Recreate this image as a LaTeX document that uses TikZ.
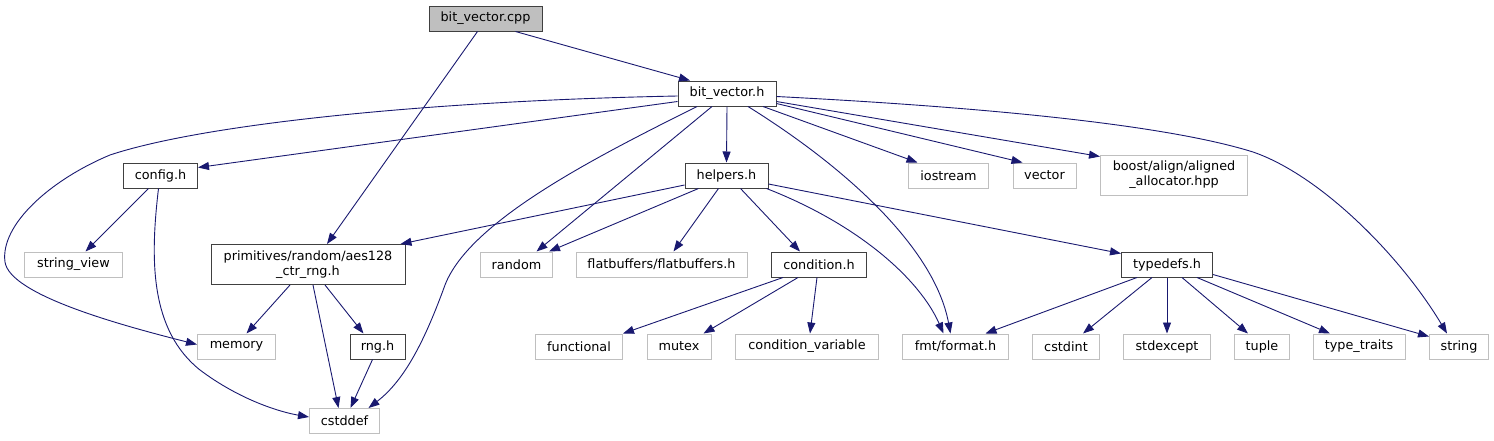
\documentclass[tikz,border=0pt]{standalone}
\usepackage{fontspec}
\setmainfont{DejaVu Sans}
\usetikzlibrary{arrows.meta}
\definecolor{deplink}{HTML}{191970}
\definecolor{sysgray}{HTML}{BFBFBF}

\begin{document}
\begin{tikzpicture}[x=1pt,y=-1pt,
  every node/.style={font=\fontsize{12.8}{15}\selectfont,inner sep=0pt,minimum height=25pt,align=center},
  hdr/.style={draw=black!75,line width=1pt,fill=white},
  sys/.style={draw=sysgray,line width=1pt,fill=white},
  src/.style={draw=black!75,line width=1pt,fill=sysgray},
  dep/.style={draw=deplink,line width=0.9pt,-{Triangle[length=11pt,width=8pt]}}]
\useasboundingbox (0,0) rectangle (1494,440);
\node[src,minimum width=113pt] (cpp) at (485.5,18.5) {bit\_vector.cpp};
\node[hdr,minimum width=98pt] (bvh) at (727,93.5) {bit\_vector.h};
\node[hdr,minimum width=83pt] (helpers) at (726.5,175.5) {helpers.h};
\node[sys,minimum width=80pt] (iostream) at (948.5,175.5) {iostream};
\node[sys,minimum width=63pt] (vector) at (1044.5,175.5) {vector};
\node[sys,minimum width=147pt,minimum height=40pt] (boost) at (1174,175) {boost/align/aligned\\\_allocator.hpp};
\node[hdr,minimum width=74pt] (config) at (160.5,175.5) {config.h};
\node[sys,minimum width=98pt] (strview) at (73.5,264.5) {string\_view};
\node[hdr,minimum width=194pt,minimum height=40pt] (aes) at (308,264.5) {primitives/random/aes128\\\_ctr\_rng.h};
\node[sys,minimum width=78pt] (memory) at (236.5,346.5) {memory};
\node[hdr,minimum width=55pt] (rng) at (377.5,346.5) {rng.h};
\node[sys,minimum width=70pt] (cstddef) at (344.5,421) {cstddef};
\node[sys,minimum width=72pt] (random) at (516.5,264.5) {random};
\node[sys,minimum width=171pt] (flatbuf) at (661.5,264.5) {flatbuffers/flatbuffers.h};
\node[hdr,minimum width=95pt] (condition) at (819,264.5) {condition.h};
\node[sys,minimum width=87pt] (functional) at (579,346.5) {functional};
\node[sys,minimum width=64pt] (mutex) at (679,346.5) {mutex};
\node[sys,minimum width=143pt] (condvar) at (807,346.5) {condition\_variable};
\node[sys,minimum width=106pt] (format) at (955.5,346.5) {fmt/format.h};
\node[hdr,minimum width=91pt] (typedefs) at (1167,264.5) {typedefs.h};
\node[sys,minimum width=67pt] (cstdint) at (1066,346.5) {cstdint};
\node[sys,minimum width=87pt] (stdexcept) at (1167,346.5) {stdexcept};
\node[sys,minimum width=55pt] (tuple) at (1262,346.5) {tuple};
\node[sys,minimum width=92pt] (traits) at (1359,346.5) {type\_traits};
\node[sys,minimum width=59pt] (string) at (1459,346.5) {string};
\draw[dep] ([xshift=30pt]cpp.south) -- ([xshift=-37pt]bvh.north);
\draw[dep] ([xshift=-8pt]cpp.south) -- ([xshift=19pt]aes.north);
\draw[dep] ([yshift=-2.5pt]bvh.west) .. controls (420,101) and (200,125) .. (110,155)
  .. controls (50,180) and (0,225) .. (5,262) .. controls (10,295) and (120,325) .. ([yshift=2pt]memory.west);
\draw[dep] ([yshift=-8pt]bvh.west) -- ([yshift=8pt]config.east);
\draw[dep] ([xshift=-30pt]bvh.south) .. controls (600,155) and (470,220) .. (445,285)
  .. controls (425,340) and (405,380) .. ([xshift=24pt]cstddef.north);
\draw[dep] ([xshift=-15pt]bvh.south) -- ([xshift=20pt]random.north);
\draw[dep] (bvh.south) -- (helpers.north);
\draw[dep] ([xshift=21pt]bvh.south) .. controls (850,170) and (935,250) .. ([xshift=-5pt]format.north);
\draw[dep] ([xshift=36pt]bvh.south) -- ([xshift=-31pt]iostream.north);
\draw[dep] ([yshift=-10pt]bvh.east) -- ([xshift=-22pt]vector.north);
\draw[dep] ([yshift=-8pt]bvh.east) -- ([yshift=-2pt]boost.north west);
\draw[dep] ([yshift=-3pt]bvh.east) .. controls (1000,108) and (1170,126) .. (1253,152)
  .. controls (1320,175) and (1400,255) .. ([xshift=-12pt]string.north);
\draw[dep] ([xshift=-12pt]config.south) -- ([xshift=12pt]strview.north);
\draw[dep] ([xshift=-2pt]config.south) .. controls (150,260) and (150,330) .. (200,370)
  .. controls (240,400) and (280,412) .. ([yshift=4pt]cstddef.west);
\draw[dep] ([yshift=-9.5pt]helpers.west) -- ([xshift=-5pt]aes.north east);
\draw[dep] ([xshift=-28pt]helpers.south) -- ([xshift=-4pt]random.north east);
\draw[dep] ([xshift=-8pt]helpers.south) -- ([xshift=12pt]flatbuf.north);
\draw[dep] ([xshift=14pt]helpers.south) -- ([xshift=-19pt]condition.north);
\draw[dep] ([xshift=-2pt]helpers.south east) .. controls (860,225) and (920,280) .. ([xshift=-12pt]format.north);
\draw[dep] ([yshift=-8.5pt]helpers.east) -- ([yshift=-2pt]typedefs.north west);
\draw[dep] ([xshift=-18pt]aes.south) -- ([xshift=10pt]memory.north);
\draw[dep] ([xshift=5pt]aes.south) -- ([xshift=-6pt]cstddef.north);
\draw[dep] ([xshift=17pt]aes.south) -- ([xshift=-14pt]rng.north);
\draw[dep] ([xshift=-5pt]rng.south) -- ([xshift=6pt]cstddef.north);
\draw[dep] ([xshift=-36pt]condition.south) -- (functional.north east);
\draw[dep] ([xshift=-21pt]condition.south) -- ([xshift=-8pt]mutex.north east);
\draw[dep] ([xshift=-2pt]condition.south) -- ([xshift=3pt]condvar.north);
\draw[dep] ([xshift=-30pt]typedefs.south) -- ([xshift=30pt]format.north);
\draw[dep] ([xshift=-15pt]typedefs.south) -- ([xshift=17pt]cstdint.north);
\draw[dep] (typedefs.south) -- (stdexcept.north);
\draw[dep] ([xshift=15pt]typedefs.south) -- ([xshift=-14pt]tuple.north);
\draw[dep] ([xshift=30pt]typedefs.south) -- ([xshift=-29pt]traits.north);
\draw[dep] ([yshift=-10pt]typedefs.east) -- ([yshift=10pt]string.west);
\end{tikzpicture}
\end{document}
